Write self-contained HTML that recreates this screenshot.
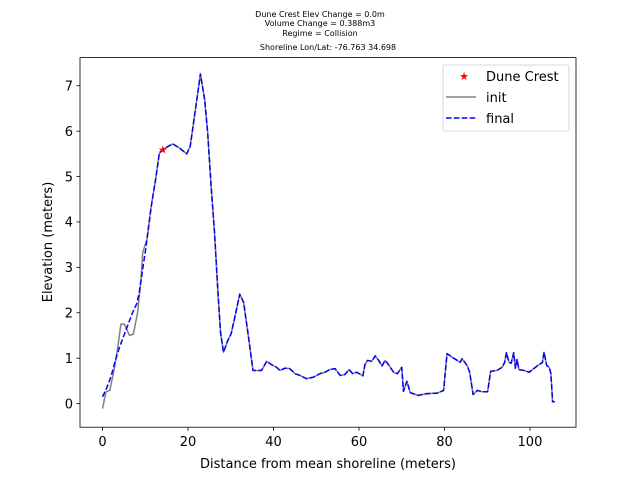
<!DOCTYPE html>
<html><head><meta charset="utf-8"><style>
body{margin:0;background:#fff;}
svg{display:block;font-family:"DejaVu Sans","Liberation Sans",sans-serif;}
</style></head><body>
<svg id="chart" width="640" height="480" viewBox="0 0 640 480">
<g font-size="8" text-anchor="middle" fill="#000">
<text x="320" y="17">Dune Crest Elev Change = 0.0m</text>
<text x="320" y="26">Volume Change = 0.388m3</text>
<text x="320" y="36">Regime = Collision</text>
<text x="328" y="50">Shoreline Lon/Lat: -76.763 34.698</text>
</g>
<g id="ticks"></g>
<g id="plot"></g>
<rect x="80" y="57.6" width="496" height="369.6" fill="none" stroke="#000" stroke-width="0.8"/>
<text x="328" y="468" font-size="13" text-anchor="middle">Distance from mean shoreline (meters)</text>
<text transform="translate(52,242) rotate(-90)" font-size="13" text-anchor="middle">Elevation (meters)</text>
<g>
<rect x="443" y="65" width="126" height="66" rx="2" fill="#fff" stroke="#ccc" stroke-width="0.8"/>
<text x="464" y="80" font-size="11" fill="red" text-anchor="middle">★</text>
<text x="486" y="81" font-size="13">Dune Crest</text>
<line x1="446" y1="97" x2="476" y2="97" stroke="#808080" stroke-width="1.5"/>
<text x="486" y="102" font-size="13">init</text>
<line x1="446" y1="118" x2="476" y2="118" stroke="blue" stroke-width="1.5" stroke-dasharray="5.5,2.4"/>
<text x="486" y="123" font-size="13">final</text>
</g>
</svg>
<script>
const xTicks=[0,20,40,60,80,100];
const yTicks=[0,1,2,3,4,5,6,7];
const initX=[0,0.8,1.7,2.75,3.5,4.3,5.1,6.3,7.2,8.2,9.0,9.4,10.4,11.4,12.4,13.3,14.1,16.4,18.0,19.7,20.5,21.5,22.9,23.9,24.6,25.4,26.2,27.0,27.6,28.3,29.3,30.1,31.2,32.1,33.0,34.0,35.2,36.4,37.2,38.4,39.5,40.7,41.5,42.7,43.8,45.0,46.2,47.7,49.3,50.9,52.0,53.2,54.4,55.6,56.7,57.7,58.5,59.5,60.9,61.4,62.0,63.0,63.8,64.6,65.4,66.1,66.9,68.1,69.0,70.0,70.4,71.2,72.0,73.9,75.9,78.3,79.8,80.6,81.8,83.0,83.7,84.1,85.3,85.9,86.7,87.7,88.8,90.1,90.8,92.3,93.5,94.1,94.5,95.1,95.6,96.2,96.6,97.0,97.4,98.6,99.8,100.9,102.1,102.9,103.3,103.9,104.5,104.9,105.3,105.8];
const initY=[-0.11,0.26,0.29,0.77,1.2,1.75,1.75,1.5,1.53,2.0,2.74,3.33,3.62,4.35,4.93,5.52,5.6,5.72,5.63,5.5,5.66,6.32,7.26,6.69,5.96,4.79,3.77,2.45,1.57,1.13,1.39,1.54,2.01,2.41,2.23,1.57,0.73,0.73,0.73,0.93,0.86,0.8,0.73,0.78,0.77,0.66,0.62,0.55,0.58,0.66,0.69,0.75,0.77,0.62,0.64,0.75,0.66,0.69,0.61,0.86,0.95,0.93,1.05,0.95,0.83,0.95,0.86,0.69,0.66,0.8,0.27,0.49,0.24,0.18,0.22,0.23,0.29,1.1,1.02,0.95,0.91,0.99,0.84,0.69,0.2,0.29,0.26,0.26,0.71,0.73,0.8,0.91,1.12,0.91,0.89,1.12,0.78,0.97,0.75,0.73,0.69,0.77,0.86,0.9,1.13,0.84,0.8,0.66,0.04,0.04];
const finalHeadX=[0,1,2,3,4,5,6,7,8,8.6,9.3,10.2];
const finalHeadY=[0.15,0.35,0.6,0.95,1.25,1.5,1.75,2.0,2.2,2.45,2.9,3.47];
const crestX=[14.1];
const crestY=[5.6];
const xMin=-5.275,xMax=110.775,yMin=-0.52,yMax=7.62;
const L=80,R=576,T=57.6,B=427.2;
const sx=v=>L+(v-xMin)/(xMax-xMin)*(R-L);
const sy=v=>B-(v-yMin)/(yMax-yMin)*(B-T);
const NS='http://www.w3.org/2000/svg';
const tg=document.getElementById('ticks'),pg=document.getElementById('plot');
function mk(tag,attrs,parent){const e=document.createElementNS(NS,tag);for(const k in attrs)e.setAttribute(k,attrs[k]);parent.appendChild(e);return e;}
xTicks.forEach(t=>{
 const l=mk('line',{x1:sx(t),x2:sx(t),y1:B,y2:B+3.5,stroke:'#000','stroke-width':0.8},tg);
 
 
 const tx=mk('text',{x:sx(t),y:B+19,'font-size':13,'text-anchor':'middle'},tg);tx.textContent=t;
 
 
});
yTicks.forEach(t=>{
 const l=mk('line',{x1:L-3.5,x2:L,y1:sy(t),y2:sy(t),stroke:'#000','stroke-width':0.8},tg);
 
 
 const tx=mk('text',{x:L-7,y:sy(t)+4.7,'font-size':13,'text-anchor':'end'},tg);tx.textContent=t;
 
 
});
function pts(xs,ys){return xs.map((x,i)=>sx(x).toFixed(2)+','+sy(ys[i]).toFixed(2)).join(' ');}
const ip=mk('polyline',{points:pts(initX,initY),fill:'none',stroke:'#808080','stroke-width':1.5,'stroke-linejoin':'round'},pg);


const fx=finalHeadX.concat(initX.filter(x=>x>10.3)),fy=finalHeadY.concat(initY.filter((y,i)=>initX[i]>10.3));
const fp=mk('polyline',{points:pts(fx,fy),fill:'none',stroke:'blue','stroke-width':1.5,'stroke-dasharray':'5.5,2.4','stroke-linejoin':'round'},pg);


crestX.forEach((x,i)=>{
 const s=mk('text',{x:sx(x),y:sy(crestY[i])+4,'font-size':11,fill:'red','text-anchor':'middle'},pg);s.textContent='★';
 
 
});
</script>
</body></html>
